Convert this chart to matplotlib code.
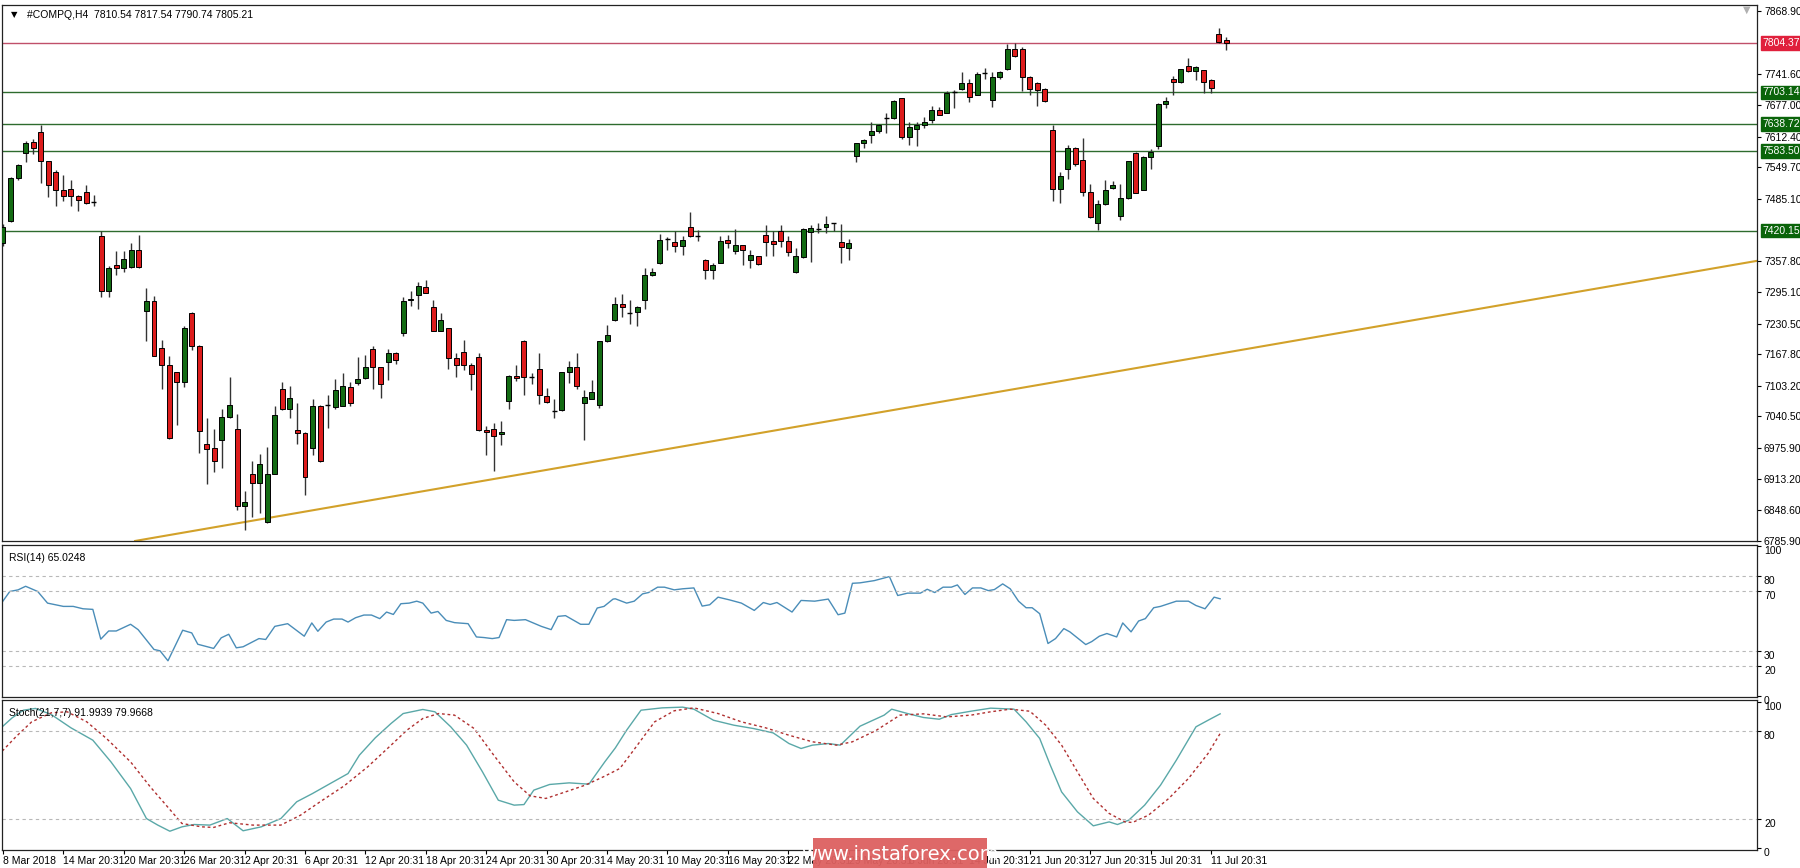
import numpy as np
import matplotlib
matplotlib.use("Agg")
import matplotlib.pyplot as plt
from matplotlib.patches import Rectangle
import matplotlib.transforms as mtrans

plt.rcParams['font.family'] = ['Liberation Sans Narrow', 'Liberation Sans', 'DejaVu Sans']

opens = [7395,7441,7528,7579,7601,7623,7562,7541,7504,7505,7492,7499,7479,7410,7298,7351,7344,7347,7381,7257,
7276,7180,7145,7131,7112,7253,7185,6984,6976,6993,7039,7015,6857,6923,6904,6824,6923,7096,7055,7012,
7007,6976,7062,7064,7060,7062,7101,7109,7119,7179,7141,7151,7171,7211,7279,7288,7306,7264,7216,7221,
7160,7172,7145,7162,7012,7015,7005,7073,7124,7195,7122,7137,7083,7053,7053,7132,7141,7069,7077,7064,
7194,7238,7271,7253,7255,7278,7330,7354,7404,7397,7390,7429,7410,7361,7340,7355,7402,7379,7391,7361,
7368,7411,7400,7419,7400,7337,7366,7417,7424,7427,7436,7398,7385,7573,7599,7616,7625,7650,7650,7691,
7613,7629,7637,7647,7667,7662,7705,7710,7723,7698,7743,7688,7734,7751,7791,7792,7734,7723,7710,7627,
7505,7546,7590,7565,7499,7437,7475,7507,7451,7487,7579,7504,7571,7594,7679,7731,7725,7757,7747,7749,
7729,7823,7810.54]
highs = [7434,7531,7557,7603,7608,7637,7564,7545,7535,7524,7494,7514,7494,7419,7349,7379,7379,7395,7412,7303,
7286,7196,7165,7132,7226,7255,7186,7037,7015,7056,7122,7046,6889,6949,6964,6978,7061,7112,7102,7068,
7008,7076,7063,7085,7118,7129,7112,7162,7167,7184,7142,7179,7173,7284,7298,7316,7320,7278,7252,7222,
7170,7197,7150,7171,7021,7028,7032,7125,7146,7196,7130,7170,7098,7076,7132,7153,7170,7095,7115,7195,
7228,7284,7291,7278,7267,7344,7345,7414,7407,7419,7410,7458,7422,7362,7354,7410,7412,7424,7392,7381,
7369,7432,7419,7432,7410,7385,7425,7432,7436,7451,7437,7434,7403,7600,7607,7642,7638,7661,7687,7692,
7642,7642,7652,7675,7673,7707,7708,7746,7730,7744,7754,7746,7748,7802,7804,7797,7737,7724,7712,7637,
7541,7596,7591,7610,7515,7483,7524,7523,7515,7564,7581,7573,7587,7682,7693,7736,7752,7773,7757,7750,
7730,7834,7817.54]
lows = [7390,7439,7525,7560,7577,7518,7490,7471,7482,7471,7461,7475,7471,7284,7284,7330,7337,7345,7344,7194,
7164,7096,6995,7024,7101,7177,6966,6903,6928,6936,7038,6849,6809,6836,6843,6823,6922,7054,7037,6985,
6879,6962,6947,7017,7056,7061,7061,7105,7117,7096,7078,7116,7148,7205,7267,7260,7293,7215,7215,7137,
7122,7135,7094,7011,6962,6929,6983,7056,7113,7085,7107,7066,7069,7037,7052,7109,7097,6993,7076,7058,
7193,7235,7244,7230,7226,7260,7328,7353,7381,7377,7371,7408,7400,7321,7321,7354,7385,7373,7351,7344,
7351,7368,7369,7388,7369,7334,7365,7357,7415,7415,7420,7354,7360,7560,7589,7599,7621,7620,7649,7607,
7596,7594,7630,7640,7657,7661,7671,7708,7684,7697,7730,7674,7730,7750,7775,7707,7697,7676,7684,7482,
7477,7526,7552,7492,7447,7421,7472,7506,7443,7486,7497,7503,7546,7587,7671,7698,7723,7746,7729,7703,
7703,7804,7790.74]
closes = [7429,7528,7555,7599,7589,7562,7513,7504,7492,7492,7483,7478,7478,7298,7344,7344,7363,7381,7346,7276,
7165,7145,6996,7112,7221,7185,7010,6974,6949,7039,7065,6858,6865,6904,6943,6923,7044,7055,7078,7007,
6916,7062,6949,7064,7095,7102,7069,7118,7141,7141,7106,7171,7156,7277,7281,7308,7294,7216,7237,7160,
7145,7145,7127,7012,7008,7000,7009,7124,7120,7122,7121,7085,7070,7052,7131,7141,7102,7080,7090,7194,
7207,7271,7265,7253,7265,7329,7337,7402,7405,7390,7402,7409,7409,7340,7350,7400,7396,7391,7381,7370,
7352,7398,7393,7400,7376,7368,7424,7425,7424,7434,7436,7387,7395,7599,7606,7625,7637,7650,7686,7613,
7632,7637,7642,7667,7658,7702,7705,7723,7693,7741,7742,7734,7744,7791,7778,7734,7710,7708,7685,7505,
7532,7590,7556,7499,7448,7475,7504,7514,7487,7563,7498,7572,7582,7680,7686,7724,7751,7747,7756,7725,
7713,7807,7805.21]

rsi_x = [-0.1,0.9,2.0,3.0,4.6,5.9,8.0,9.3,10.6,11.9,12.95,14.0,15.0,16.9,17.9,20.0,20.8,21.85,23.8,25.0,25.8,27.9,28.9,29.9,30.9,31.8,33.9,34.8,36.0,37.7,39.9,40.9,41.7,42.8,43.8,44.9,45.7,46.7,47.8,48.8,49.9,50.8,51.7,52.7,53.8,54.8,55.6,56.7,57.6,58.7,59.8,61.6,62.7,63.7,64.8,65.7,66.7,67.7,69.2,71.3,72.6,73.5,74.5,76.5,77.6,78.7,79.6,80.8,
81.1,82.6,83.6,84.7,85.5,86.7,87.6,88.9,90.0,91.5,92.6,93.6,94.7,96.2,97.8,99.5,100.7,101.6,102.5,104.5,105.7,107.5,109.3,110.6,111.5,112.5,113.5,115.4,117.4,118.5,119.8,121.5,122.4,123.4,124.5,125.6,126.4,127.4,128.4,129.5,130.5,131.3,132.4,133.4,134.5,135.5,136.3,137.3,138.4,139.4,140.5,141.3,143.4,144.2,145.2,146.2,147.5,148.3,149.4,150.4,151.3,152.4,153.3,155.4,157.0,158.0,159.2,160.4,161.2]
rsi_v = [62.7,69.8,70.9,73.3,69.8,62.0,59.8,59.8,58.2,57.8,37.8,43.3,43.3,47.8,44.2,30.9,30.0,23.3,43.8,42.0,34.4,31.6,38.7,41.1,32.0,32.7,38.2,37.6,46.4,48.2,39.8,48.7,43.1,49.3,51.3,51.3,49.3,52.2,54.0,54.0,51.6,56.0,54.4,61.6,62.0,63.3,62.0,55.3,56.4,50.4,48.9,48.2,39.3,38.9,38.2,38.9,50.9,50.4,50.9,46.4,44.2,53.1,53.6,47.8,47.8,58.7,59.8,64.7,
64.9,62.0,63.3,68.2,69.1,72.7,72.7,70.9,71.6,72.2,60.0,60.9,66.0,64.2,62.0,57.1,62.4,61.1,62.4,56.0,63.8,63.3,64.7,54.2,55.3,75.3,75.6,77.1,79.8,67.1,68.7,68.7,71.3,69.1,72.7,72.7,74.2,67.8,72.2,72.2,70.4,71.1,74.9,71.6,63.3,58.9,58.9,54.9,34.9,38.2,44.9,42.7,34.2,36.2,39.8,41.6,39.3,48.7,42.7,50.0,51.6,58.9,59.8,63.3,63.3,60.4,58.2,66.0,64.9]

stk_x = [-0.1,1.2,2.7,4.3,6.4,9.0,11.9,14.3,16.9,19.0,20.5,22.1,23.7,25.3,27.4,29.7,31.8,34.2,36.8,38.9,41.0,43.6,45.7,47.2,49.3,51.4,53.0,55.6,57.2,59.3,61.4,63.5,65.6,67.7,69.0,70.3,72.4,75.0,77.6,79.7,
81.1,82.6,84.5,87.3,90.0,91.5,94.1,96.8,99.4,102.0,104.1,105.7,107.2,109.3,110.9,113.5,116.7,117.7,119.8,121.9,124.0,125.6,128.2,130.8,133.9,135.5,137.3,138.7,140.2,142.3,144.4,146.5,147.6,149.1,151.2,153.3,155.4,158.0,159.6,161.2]
stk_v = [83.1,89.2,94.5,95.7,91.5,82.4,73.9,59.0,40.7,20.1,15.6,11.4,14.4,16.0,15.6,20.1,11.7,14.4,20.1,31.6,37.3,44.9,51.0,63.6,75.5,85.4,92.2,95.0,93.4,83.1,70.5,52.2,32.7,29.3,29.7,39.6,43.5,44.6,43.7,59.0,
68.6,80.8,94.5,96.1,96.6,95.2,87.6,84.2,81.9,78.9,71.6,68.2,70.5,71.6,70.5,83.5,91.1,95.2,92.2,89.5,88.3,91.5,93.8,95.9,95.2,86.5,75.1,56.8,38.4,24.7,15.1,17.8,16.0,19.0,29.3,43.0,60.2,83.1,87.6,92.0]
sig_x = [-0.1,1.7,3.8,6.4,8.5,11.1,13.7,16.9,19.5,21.6,23.7,26.3,27.9,30.0,33.1,36.8,39.4,42.0,45.2,48.3,51.4,53.5,55.6,57.7,59.8,62.4,65.0,67.7,69.8,71.9,74.5,77.1,79.7,
81.7,83.2,86.3,88.9,91.5,94.7,97.8,101.0,104.1,107.2,110.4,112.5,115.6,118.8,121.9,125.0,128.2,130.8,133.4,136.0,138.1,140.2,142.3,144.4,146.5,148.6,149.6,151.7,154.4,157.0,159.6,161.2]
sig_v = [66.4,76.2,86.5,92.7,93.4,86.5,75.1,59.0,41.9,29.3,16.7,14.4,14.0,17.2,15.6,15.6,22.4,31.6,42.6,55.6,70.5,80.8,88.8,92.2,91.1,81.9,63.6,45.3,35.7,33.9,38.4,43.0,49.2,
54.5,64.8,86.5,94.1,96.1,92.2,86.5,82.4,77.3,72.8,70.5,72.8,80.5,91.1,92.0,89.9,91.1,93.4,95.2,93.8,84.2,70.5,52.2,33.9,23.6,17.8,17.4,22.4,33.9,47.6,64.8,78.5]

levels = [7804.37, 7703.14, 7638.72, 7583.50, 7420.15]
level_colors = ["#c0506a", "#2e6b2e", "#2e6b2e", "#2e6b2e", "#2e6b2e"]
label_colors = ["#e0203c", "#0a640a", "#0a640a", "#0a640a", "#0a640a"]
trend_x = [17.5, 232.3]
trend_y = [6786.0, 7358.8]
price_ticks = [7868.90, 7741.60, 7677.00, 7612.40, 7549.70, 7485.10, 7357.80, 7295.10, 7230.50,
               7167.80, 7103.20, 7040.50, 6975.90, 6913.20, 6848.60, 6785.90]
date_labels = ["8 Mar 2018", "14 Mar 20:31", "20 Mar 20:31", "26 Mar 20:31", "2 Apr 20:31", "6 Apr 20:31",
               "12 Apr 20:31", "18 Apr 20:31", "24 Apr 20:31", "30 Apr 20:31", "4 May 20:31", "10 May 20:31",
               "16 May 20:31", "22 May 20:31", "29 May 20:31", "6 Jun 20:31", "14 Jun 20:31", "21 Jun 20:31",
               "27 Jun 20:31", "5 Jul 20:31", "11 Jul 20:31"]

W, H = 1800, 868
fig = plt.figure(figsize=(W/100, H/100), dpi=100)
FS = 7.5
def ax_at(x0, y0, x1, y1):
    return fig.add_axes([x0/W, 1-y1/H, (x1-x0)/W, (y1-y0)/H])

XL = (-0.13, 232.3)
ax = ax_at(2, 5, 1757, 541)
rax = ax_at(2, 545, 1757, 697)
sax = ax_at(2, 700, 1757, 850)

n = len(closes)
xs = np.arange(n)
for i in range(n):
    o, h, l, c = opens[i], highs[i], lows[i], closes[i]
    ax.vlines(xs[i], l, h, color="#333333", lw=1.0, zorder=2)
    if abs(c - o) < 1.5:
        ax.hlines((o+c)/2, xs[i]-0.35, xs[i]+0.35, color="black", lw=1.0, zorder=3)
    else:
        col = "#136b13" if c > o else "#dd1c1c"
        ax.add_patch(Rectangle((xs[i]-0.33, min(o, c)), 0.66, abs(c-o), facecolor=col,
                               edgecolor="black", lw=0.7, zorder=3))
for lv, lc in zip(levels, level_colors):
    ax.axhline(lv, color=lc, lw=1.0, zorder=1)
ax.plot(trend_x, trend_y, color="#d2a12a", lw=1.5, zorder=1)
ax.set_xlim(*XL)
ax.set_ylim(6786.5, 7882)
ax.yaxis.tick_right()
ax.set_yticks(price_ticks)
ax.set_yticklabels([f"{t:.2f}" for t in price_ticks])
ax.set_xticks([])
blend = mtrans.blended_transform_factory(ax.transAxes, ax.transData)
for lv, bc in zip(levels, label_colors):
    ax.text(1.0033, lv, f"{lv:.2f}", transform=blend, fontsize=FS, color="white", va="center", ha="left",
            bbox=dict(boxstyle="square,pad=0.15", fc=bc, ec=bc), zorder=5, clip_on=False)
ax.text(0.005, 0.99, "\u25bc", transform=ax.transAxes, fontsize=6, va="top", ha="left",
        family="DejaVu Sans")
ax.text(0.014, 0.99, "#COMPQ,H4  7810.54 7817.54 7790.74 7805.21", transform=ax.transAxes,
        fontsize=FS, va="top", ha="left")
ax.text(0.994, 1.0, "\u25bc", transform=ax.transAxes, fontsize=7, color="#b0b0b0", va="top", ha="center",
        family="DejaVu Sans")

rax.plot(rsi_x, rsi_v, color="#4a8db8", lw=1.0)
for lv in [80, 70, 30, 20]:
    rax.axhline(lv, color="#b8b8b8", lw=0.8, ls=(0, (3, 3)))
rax.set_xlim(*XL); rax.set_ylim(-1, 101)
rax.yaxis.tick_right(); rax.set_yticks([100, 80, 70, 30, 20, 0]); rax.set_xticks([])
rax.text(0.004, 0.95, "RSI(14) 65.0248", transform=rax.transAxes, fontsize=FS, va="top")

sax.plot(stk_x, stk_v, color="#5aa8a8", lw=1.0)
sax.plot(sig_x, sig_v, color="#b03030", lw=1.0, ls=(0, (2, 2)))
for lv in [80, 20]:
    sax.axhline(lv, color="#b8b8b8", lw=0.8, ls=(0, (3, 3)))
sax.set_xlim(*XL); sax.set_ylim(-1.5, 101.5)
sax.yaxis.tick_right(); sax.set_yticks([100, 80, 20, 0])
sax.text(0.004, 0.95, "Stoch(21,7,7) 91.9939 79.9668", transform=sax.transAxes, fontsize=FS, va="top")
tick_pos = [8*k for k in range(len(date_labels))]
sax.set_xticks(tick_pos)
sax.set_xticklabels(date_labels, ha="left")

for a in (ax, rax, sax):
    a.tick_params(axis="y", labelsize=FS, length=3, width=0.8, pad=2, direction="out")
    a.tick_params(axis="x", labelsize=FS, length=3, width=0.8, pad=1)
    for s in a.spines.values():
        s.set_color("#222222"); s.set_linewidth(0.9)
for lab in rax.get_yticklabels() + sax.get_yticklabels():
    lab.set_va("top")

fig.patches.append(Rectangle((813/W, 0), 174/W, 30/H, transform=fig.transFigure,
                             facecolor="#dd6060", edgecolor="none", alpha=0.95, zorder=10))
fig.text(900/W, 14/H, "www.instaforex.com", color="white", fontsize=14, ha="center", va="center",
         zorder=11, family=["Liberation Sans Narrow", "DejaVu Sans"])

fig.savefig("out.png", dpi=100, facecolor="white")
